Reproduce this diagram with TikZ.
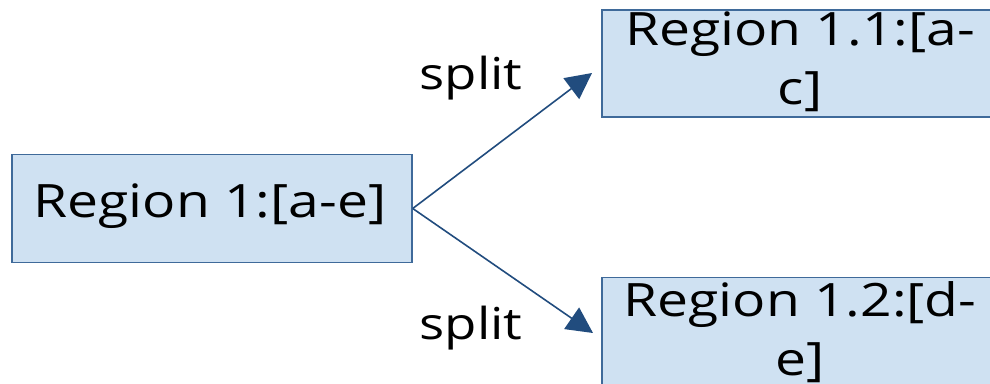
\documentclass[tikz,border=0pt]{standalone}
\usepackage{fontspec}
\setmainfont[FakeStretch=1.2]{Open Sans}
\usetikzlibrary{arrows.meta}
\definecolor{boxfill}{HTML}{CFE1F2}
\definecolor{boxline}{HTML}{3F6A9A}
\definecolor{arrowcol}{HTML}{214C7E}
\tikzset{
  region/.style={draw=boxline, line width=1.5pt, fill=boxfill, inner sep=0pt},
  regtext/.style={font=\fontsize{46}{59}\selectfont, align=center, inner sep=0pt},
  splitarrow/.style={draw=arrowcol, line width=1.6pt, -{Triangle[length=26pt,width=26pt]}},
  lbl/.style={font=\fontsize{44}{50}\selectfont, inner sep=0pt}
}
\begin{document}
\begin{tikzpicture}[x=1pt,y=-1pt]
\useasboundingbox (0,0) rectangle (990,383);
\clip (0,0) rectangle (990,383);
\node[region, minimum width=400pt, minimum height=108pt] (r1) at (212,208.5) {};
\node[regtext] (t1) at (210,206) {Region 1:[a-e]};
\node[region, minimum width=398pt, minimum height=107pt] (r11) at (801,63.5) {};
\node[regtext] (t11) at (800,62) {Region 1.1:[a-\\c]};
\node[region, minimum width=398pt, minimum height=107pt] (r12) at (801,331) {};
\node[regtext] (t12) at (800,332) {Region 1.2:[d-\\e]};
\coordinate (e1) at (592,73);
\coordinate (e2) at (593,333);
\draw[splitarrow] (r1.east) -- (e1);
\draw[splitarrow] (r1.east) -- (e2);
\node[lbl] (s1) at (471,78) {split};
\node[lbl] (s2) at (471,328) {split};
\end{tikzpicture}
\end{document}
